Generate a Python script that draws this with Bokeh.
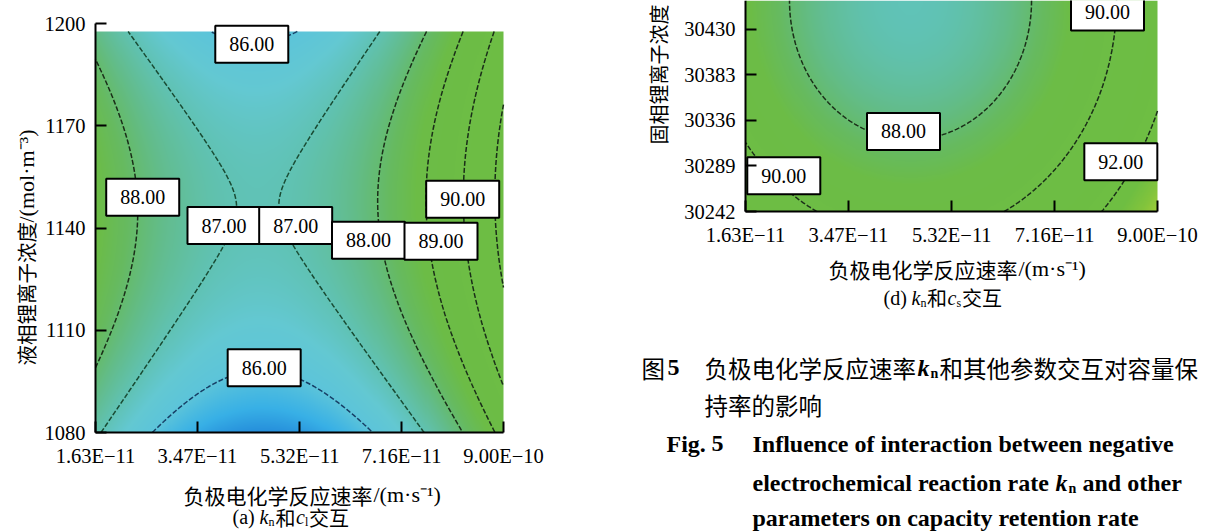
import math
import numpy as np
from bokeh.plotting import figure
from bokeh.plotting.contour import contour_data
from bokeh.models import (Range1d, FixedTicker, Label, CustomJSTickFormatter, ColumnDataSource,
                          LinearAxis)
from bokeh.core.properties import value
from bokeh.embed import file_html
from bokeh.resources import INLINE

# ---------------- data ----------------
kn_ticks = [1.63, 3.47, 5.32, 7.16, 9.00]            # negative-electrode rate, x1e-11 m/s
kn_tick_labels = ["1.63E−11", "3.47E−11", "5.32E−11", "7.16E−11", "9.00E−10"]
cl_ticks = [1080, 1110, 1140, 1170, 1200]             # liquid Li+ concentration
cs_ticks = [30242, 30289, 30336, 30383, 30430]        # solid Li+ concentration

kn_range = [1.63, 9.00]
cl_range = [1080, 1200]
cl_surface_top = 1197.65
cs_range = [30242, 30459.5]

# (a) capacity-retention response surface, kn x cl (saddle)
a_center_kn = 4.56
a_center_cl = 1146.3
a_center_value = 86.968
a_coef_kn = 0.2196
a_coef_cl = 4.182e-4
a_shift = -0.001321
a_levels = [86, 87, 88, 89, 90, 91]
a_label_text = ["86.00", "88.00", "87.00", "87.00", "88.00", "89.00", "90.00", "86.00"]
a_label_kn = [4.453, 2.483, 3.951, 5.246, 6.561, 7.871, 8.263, 4.677]
a_label_cl = [1193.9, 1149.0, 1140.7, 1140.7, 1136.4, 1136.1, 1148.4, 1099.0]

# (d) capacity-retention response surface, kn x cs (bowl)
d_center_kn = 4.582
d_center_cs = 30459.5
d_center_value = 86.946
d_coef_kn = 0.2249
d_coef_cs = 5.122e-5
d_levels = [88, 90, 92]
d_label_text = ["90.00", "88.00", "90.00", "92.00"]
d_label_kn = [2.315, 4.456, 8.106, 8.344]
d_label_cs = [30278.8, 30324.5, 30447.6, 30293.2]

# colour scale (value -> colour)
cmap_values = [85.1, 85.5, 86.0, 86.5, 87.0, 87.6, 88.2, 88.8, 92.5, 93.2, 94.0]
cmap_colors = ["#248cda", "#38b0e6", "#5cc4da", "#63c8d2", "#60c2b4", "#62bc8c",
               "#66ba60", "#6cbc46", "#6ebe42", "#82c43c", "#aad038"]

# ---------------- page layout (pixels) ----------------
W, H = 1211, 531
A_L, A_R, A_T, A_B = 95, 503, 23, 432       # frame of panel (a)
D_L, D_R, D_T, D_B = 745, 1157, 0, 211      # visible frame of panel (d)

SERIF = "Liberation Serif"
CJK = "Noto Sans CJK SC"


def span(v0, v1, p0, p1, q0, q1):
    """values at pixels q0, q1 for a linear map v0@p0 -> v1@p1"""
    k = (v1 - v0) / (p1 - p0)
    return v0 + (q0 - p0) * k, v0 + (q1 - p0) * k


def surface_a(kn, cl):
    kc = a_center_kn + a_shift * (cl - a_center_cl)
    return a_center_value + a_coef_kn * (kn - kc) ** 2 - a_coef_cl * (cl - a_center_cl) ** 2


def surface_d(kn, cs):
    return d_center_value + d_coef_kn * (kn - d_center_kn) ** 2 + d_coef_cs * (cs - d_center_cs) ** 2


def to_rgba(z):
    rgb = np.array([[int(c[i:i + 2], 16) for i in (1, 3, 5)] for c in cmap_colors], float)
    img = np.empty(z.shape + (4,), dtype=np.uint8)
    for ch in range(3):
        img[..., ch] = np.round(np.interp(z, cmap_values, rgb[:, ch]))
    img[..., 3] = 255
    return np.ascontiguousarray(img).view(np.uint32).reshape(z.shape)


def level_color(lv):
    if lv <= 86:
        return "#173f66"
    if lv <= 87:
        return "#184a32"
    return "#1a2e18"


tick_fmt = CustomJSTickFormatter(args=dict(kt=kn_ticks, kl=kn_tick_labels), code="""
let best = 0;
for (let i = 0; i < kt.length; i++) {
  if (Math.abs(kt[i] - tick) < Math.abs(kt[best] - tick)) best = i;
}
return kl[best];
""")

p = figure(width=W, height=H, x_range=Range1d(0, W), y_range=Range1d(H, 0),
           min_border=0, min_border_left=0, min_border_right=0, min_border_top=0,
           min_border_bottom=0, x_axis_location=None, y_axis_location=None,
           output_backend="svg", toolbar_location=None)
p.grid.visible = False
p.outline_line_color = None
p.background_fill_color = "white"
p.border_fill_color = "white"

xs0, xs1 = span(kn_range[0], kn_range[1], A_L, A_R, 0, W)
ys0, ys1 = span(cl_range[0], cl_range[1], A_B, A_T, H, 0)
p.extra_x_ranges["ka"] = Range1d(xs0, xs1)
p.extra_y_ranges["cl"] = Range1d(ys0, ys1)
xs0, xs1 = span(kn_range[0], kn_range[1], D_L, D_R, 0, W)
ys0, ys1 = span(cs_range[0], cs_range[1], D_B, D_T, H, 0)
p.extra_x_ranges["kd"] = Range1d(xs0, xs1)
p.extra_y_ranges["cs"] = Range1d(ys0, ys1)


def style_axis(ax, standoff):
    ax.axis_line_width = 2
    ax.axis_line_color = "black"
    ax.major_tick_in = 11
    ax.major_tick_out = 0
    ax.major_tick_line_width = 2
    ax.major_tick_line_color = "black"
    ax.minor_tick_line_color = None
    ax.major_label_text_font = SERIF
    ax.major_label_text_font_size = "20.5px"
    ax.major_label_text_color = "black"
    ax.major_label_standoff = standoff


def panel(xr, yr, kn_grid, y_grid, z, levels, yticks, ybounds, lab_x, lab_y, lab_t):
    # smooth colour field
    p.image_rgba(image=[to_rgba(z)], x=kn_grid[0], y=y_grid[0],
                 dw=kn_grid[-1] - kn_grid[0], dh=y_grid[-1] - y_grid[0],
                 x_range_name=xr, y_range_name=yr)
    # contour lines
    ld = contour_data(kn_grid, y_grid, z, levels, want_fill=False, want_line=True).line_data
    src = ColumnDataSource(dict(xs=list(ld.xs), ys=list(ld.ys),
                                c=[level_color(lv) for lv in ld.levels]))
    p.multi_line("xs", "ys", source=src, line_color="c", line_width=1.5, line_dash="5 2",
                 x_range_name=xr, y_range_name=yr)
    # contour value boxes
    bsrc = ColumnDataSource(dict(x=lab_x, y=lab_y, t=lab_t))
    p.rect("x", "y", width=73, height=37, width_units="screen", height_units="screen",
           source=bsrc, fill_color="white", line_color="black", line_width=2,
           x_range_name=xr, y_range_name=yr)
    p.text("x", "y", text="t", source=bsrc, text_align="center", text_baseline="middle",
           text_font=value(SERIF), text_font_size=value("20px"), text_color="black",
           x_range_name=xr, y_range_name=yr)
    # axes
    xax = LinearAxis(x_range_name=xr, y_range_name=yr, fixed_location=ybounds[0],
                     bounds=(kn_range[0], kn_range[1]), ticker=FixedTicker(ticks=kn_ticks),
                     formatter=tick_fmt)
    style_axis(xax, 12)
    p.add_layout(xax, "below")
    yax = LinearAxis(x_range_name=xr, y_range_name=yr, fixed_location=kn_range[0],
                     bounds=ybounds, ticker=FixedTicker(ticks=yticks))
    style_axis(yax, 10)
    p.add_layout(yax, "left")


xa = np.linspace(kn_range[0], kn_range[1], 400)
ya = np.linspace(cl_range[0], cl_surface_top, 400)
XA, YA = np.meshgrid(xa, ya)
panel("ka", "cl", xa, ya, surface_a(XA, YA), a_levels, cl_ticks, (cl_range[0], cl_range[1]),
      a_label_kn, a_label_cl, a_label_text)

xd = np.linspace(kn_range[0], kn_range[1], 400)
yd = np.linspace(cs_range[0], cs_range[1], 260)
XD, YD = np.meshgrid(xd, yd)
panel("kd", "cs", xd, yd, surface_d(XD, YD), d_levels, cs_ticks, (cs_range[0], cs_range[1]),
      d_label_kn, d_label_cs, d_label_text)

# ---------------- titles and caption (page pixels) ----------------
texts = [
    ("液相锂离子浓度", 25.5, 365, CJK, "20.5px", "normal", math.pi / 2),
    ("/(mol·m⁻³)", 25.5, 222, SERIF, "22px", "normal", math.pi / 2),
    ("负极电化学反应速率", 183, 494, CJK, "21px"),
    ("/(m·s⁻¹)", 373, 494, SERIF, "22px"),
    ("(a)", 232, 516.5, SERIF, "20px"),
    ("k", 259, 516.5, SERIF, "20px", "italic"),
    ("n", 268, 521, SERIF, "12px"),
    ("和", 275, 516.5, CJK, "20px"),
    ("c", 295.5, 516.5, SERIF, "20px", "italic"),
    ("l", 304.5, 521, SERIF, "12px"),
    ("交互", 308.5, 516.5, CJK, "20px"),
    ("固相锂离子浓度", 658, 144, CJK, "20px", "normal", math.pi / 2),
    ("负极电化学反应速率", 828, 268, CJK, "21px"),
    ("/(m·s⁻¹)", 1018, 268, SERIF, "22px"),
    ("(d)", 883, 297, SERIF, "20px"),
    ("k", 911, 297, SERIF, "20px", "italic"),
    ("n", 920, 302, SERIF, "12px"),
    ("和", 926.5, 297, CJK, "20px"),
    ("c", 947, 297, SERIF, "20px", "italic"),
    ("s", 956, 302, SERIF, "12px"),
    ("交互", 961.5, 297, CJK, "20px"),
    ("图", 641, 367, CJK, "23.5px"),
    ("5", 667, 367, SERIF, "24px", "bold"),
    ("负极电化学反应速率", 704, 367, CJK, "23.5px"),
    ("k", 917, 367, SERIF, "24px", "bold italic"),
    ("n", 930, 373, SERIF, "14px", "bold"),
    ("和其他参数交互对容量保", 939, 367, CJK, "23.5px"),
    ("持率的影响", 704, 404, CJK, "23.5px"),
    ("Fig.", 666, 443, SERIF, "24px", "bold"),
    ("5", 711, 443, SERIF, "24px", "bold"),
    ("Influence of interaction between negative", 752, 443, SERIF, "24px", "bold"),
    ("electrochemical reaction rate", 752, 482, SERIF, "24px", "bold"),
    ("k", 1055, 482, SERIF, "24px", "bold italic"),
    ("n", 1068, 488, SERIF, "14px", "bold"),
    ("and other", 1082, 482, SERIF, "24px", "bold"),
    ("parameters on capacity retention rate", 752, 517.5, SERIF, "24px", "bold"),
]
for it in texts:
    text, px, py, font, size = it[:5]
    st = it[5] if len(it) > 5 else "normal"
    ang = it[6] if len(it) > 6 else 0.0
    p.add_layout(Label(x=px, y=py, text=text, text_font=font, text_font_size=size,
                       text_font_style=st, text_align="left", text_baseline="middle",
                       angle=ang, text_color="black"))

open("out.html", "w").write(file_html(p, INLINE))
